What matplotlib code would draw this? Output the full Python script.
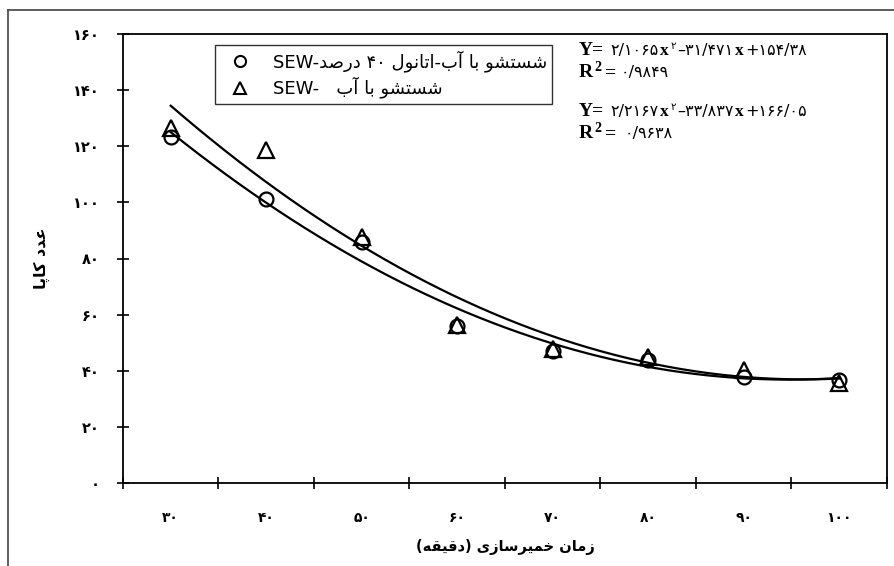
import re
import numpy as np
import matplotlib
matplotlib.use("Agg")
import matplotlib.pyplot as plt
from matplotlib.lines import Line2D

# ---------------- data ----------------
categories = ["۳۰", "۴۰", "۵۰", "۶۰", "۷۰", "۸۰", "۹۰", "۱۰۰"]
ethanol_values = [123.4, 101.1, 85.8, 56.0, 47.2, 44.0, 37.9, 36.6]
water_values = [126.4, 118.8, 87.7, 56.4, 47.6, 45.0, 40.3, 35.6]
ethanol_fit = [2.1065, -31.471, 154.38]
water_fit = [2.2167, -33.837, 166.05]
ytick_values = [0, 20, 40, 60, 80, 100, 120, 140, 160]
ytick_labels = ["۰", "۲۰", "۴۰", "۶۰", "۸۰", "۱۰۰", "۱۲۰", "۱۴۰", "۱۶۰"]

# --------------- simple Persian shaping ---------------
FORMS = {
    'ا': ('\uFE8D', '\uFE8E', None, None),
    'آ': ('\uFE81', '\uFE82', None, None),
    'ب': ('\uFE8F', '\uFE90', '\uFE91', '\uFE92'),
    'پ': ('\uFB56', '\uFB57', '\uFB58', '\uFB59'),
    'ت': ('\uFE95', '\uFE96', '\uFE97', '\uFE98'),
    'خ': ('\uFEA5', '\uFEA6', '\uFEA7', '\uFEA8'),
    'د': ('\uFEA9', '\uFEAA', None, None),
    'ر': ('\uFEAD', '\uFEAE', None, None),
    'ز': ('\uFEAF', '\uFEB0', None, None),
    'س': ('\uFEB1', '\uFEB2', '\uFEB3', '\uFEB4'),
    'ش': ('\uFEB5', '\uFEB6', '\uFEB7', '\uFEB8'),
    'ص': ('\uFEB9', '\uFEBA', '\uFEBB', '\uFEBC'),
    'ع': ('\uFEC9', '\uFECA', '\uFECB', '\uFECC'),
    'ق': ('\uFED5', '\uFED6', '\uFED7', '\uFED8'),
    'ک': ('\uFB8E', '\uFB8F', '\uFB90', '\uFB91'),
    'ل': ('\uFEDD', '\uFEDE', '\uFEDF', '\uFEE0'),
    'م': ('\uFEE1', '\uFEE2', '\uFEE3', '\uFEE4'),
    'ن': ('\uFEE5', '\uFEE6', '\uFEE7', '\uFEE8'),
    'و': ('\uFEED', '\uFEEE', None, None),
    'ه': ('\uFEE9', '\uFEEA', '\uFEEB', '\uFEEC'),
    'ی': ('\uFBFC', '\uFBFD', '\uFBFE', '\uFBFF'),
}


def fa(s):
    out = []
    n = len(s)
    for i, c in enumerate(s):
        f = FORMS.get(c)
        if f is None:
            out.append(c)
            continue
        p = s[i - 1] if i > 0 else ''
        q = s[i + 1] if i + 1 < n else ''
        jp = p in FORMS and FORMS[p][2] is not None
        jn = f[2] is not None and q in FORMS
        if jp and jn:
            out.append(f[3])
        elif jp:
            out.append(f[1])
        elif jn:
            out.append(f[2])
        else:
            out.append(f[0])
    vis = ''.join(out)[::-1]
    vis = re.sub(r'[0-9\u06F0-\u06F9/]+', lambda m: m.group(0)[::-1], vis)
    vis = vis.translate(str.maketrans('()', ')('))
    return vis


plt.rcParams['font.family'] = ['DejaVu Sans']

W, H = 895, 566
fig = plt.figure(figsize=(W / 100, H / 100), dpi=100)
fig.patch.set_facecolor('white')

# outer chart-area border (left and top)
fig.add_artist(Line2D([8 / W, 8 / W], [0, 1 - 10 / H], transform=fig.transFigure,
                      color='#505050', lw=1.3))
fig.add_artist(Line2D([8 / W, 1], [1 - 10 / H, 1 - 10 / H], transform=fig.transFigure,
                      color='#505050', lw=1.3))

ax = fig.add_axes([123 / W, 1 - 483 / H, (887 - 123) / W, (483 - 34) / H])
for sp in ax.spines.values():
    sp.set_linewidth(1.3)
    sp.set_color('black')

x = np.arange(1, len(categories) + 1)
xs = np.linspace(1, len(categories), 200)

ax.plot(xs, np.polyval(ethanol_fit, xs), color='black', lw=1.6, zorder=2)
ax.plot(xs, np.polyval(water_fit, xs), color='black', lw=1.6, zorder=2)

ax.plot(x, ethanol_values, linestyle='none', marker='o', markersize=10,
        markerfacecolor='none', markeredgecolor='black', markeredgewidth=1.6, zorder=3)
ax.plot(x, water_values, linestyle='none', marker='^', markersize=11,
        markerfacecolor='none', markeredgecolor='black', markeredgewidth=1.6, zorder=3)

ax.set_xlim(0.5, len(categories) + 0.5)
ax.set_ylim(0, 160)

ax.set_yticks(ytick_values)
ax.set_yticklabels(ytick_labels, fontsize=10.5, fontweight='bold')
ax.tick_params(axis='y', direction='inout', length=9, width=1.2, pad=12)

ax.set_xticks(x)
ax.set_xticklabels(categories, fontsize=10, fontweight='bold')
ax.tick_params(axis='x', which='major', length=0, pad=20)
ax.set_xticks(np.arange(0.5, len(categories) + 1), minor=True)
ax.tick_params(axis='x', which='minor', direction='inout', length=9, width=1.2)

ax.set_xlabel(fa("زمان خمیرسازی (دقیقه)"), fontsize=10.5, fontweight='bold', labelpad=10)
ax.set_ylabel(fa("عدد کاپا"), fontsize=11.5, fontweight='bold', labelpad=17)

# legend
h1 = Line2D([], [], linestyle='none', marker='o', markersize=8, markerfacecolor='none',
            markeredgecolor='black', markeredgewidth=1.5)
h2 = Line2D([], [], linestyle='none', marker='^', markersize=8, markerfacecolor='none',
            markeredgecolor='black', markeredgewidth=1.5)
leg = ax.legend([h1, h2],
                ["SEW-" + fa("شستشو با آب-اتانول ۴۰ درصد"),
                 "SEW-   " + fa("شستشو با آب")],
                loc='upper left', bbox_to_anchor=((215 - 123) / 764, 1 - (45 - 34) / 449),
                frameon=True, fancybox=False, fontsize=13, handletextpad=0.7,
                borderpad=0.3, labelspacing=0.25, handlelength=2.2, borderaxespad=0)
leg.get_frame().set_edgecolor('black')
leg.get_frame().set_linewidth(1.0)

# trendline equations
fig.canvas.draw()
renderer = fig.canvas.get_renderer()
serif_b = dict(family=['Liberation Serif', 'DejaVu Serif'], fontweight='bold', fontsize=14)
xfont = dict(family=['Liberation Serif', 'DejaVu Serif'], fontweight='bold', fontsize=12.5)
dig = dict(family=['DejaVu Sans'], fontsize=11.5)
sup = dict(family=['DejaVu Sans'], fontsize=7.5)


def chain(x0, y0, pieces):
    xx = x0
    for s, props, dy, gap in pieces:
        t = fig.text(xx / W, 1 - (y0 - dy) / H, s, va='baseline', ha='left', **props)
        bb = t.get_window_extent(renderer)
        xx = bb.x1 + gap


chain(579, 55, [("Y=", serif_b, 0, 6), ("۲/۱۰۶۵", dig, 0, 1.5), ("x", xfont, 0, 1.5),
                ("۲", sup, 6, 1.5), ("–۳۱/۴۷۱", dig, 0, 1.5), ("x", xfont, 0, 1.5),
                ("+۱۵۴/۳۸", dig, 0, 1.5)])
chain(579, 77, [("R", serif_b, 0, 1.5), ("2", dict(serif_b, fontsize=10), 6, 3),
                ("=", serif_b, 0, 5), ("۰/۹۸۴۹", dig, 0, 1.5)])
chain(579, 116, [("Y=", serif_b, 0, 6), ("۲/۲۱۶۷", dig, 0, 1.5), ("x", xfont, 0, 1.5),
                 ("۲", sup, 6, 1.5), ("–۳۳/۸۳۷", dig, 0, 1.5), ("x", xfont, 0, 1.5),
                 ("+۱۶۶/۰۵", dig, 0, 1.5)])
chain(579, 138, [("R", serif_b, 0, 1.5), ("2", dict(serif_b, fontsize=10), 6, 3),
                 ("=", serif_b, 0, 9), ("۰/۹۶۳۸", dig, 0, 1.5)])

fig.savefig("out.png", dpi=100, facecolor='white')
